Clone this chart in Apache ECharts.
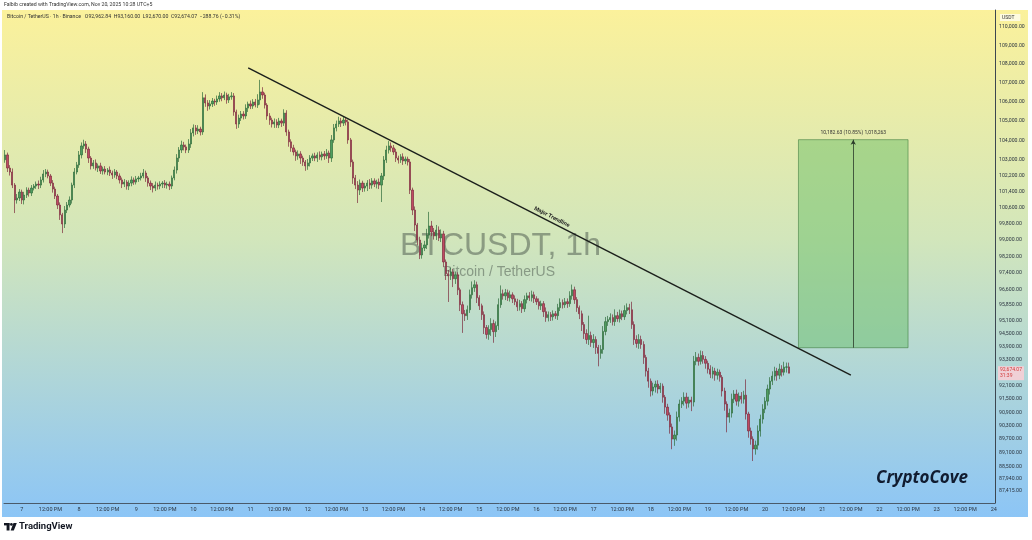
<!DOCTYPE html>
<html><head><meta charset="utf-8">
<script src="https://cdn.jsdelivr.net/npm/echarts@6/dist/echarts.min.js"></script>
<style>html,body{margin:0;padding:0;background:#fff}#c{width:1032px;height:540px}</style>
</head><body><div id="c"></div>
<script>
// ---- data ----
const startUTC = [2025, 10, 6, 17]; // first hourly candle: Nov 6, 17:00
const totalHours = 416;             // axis runs to Nov 24
const firstOpen = 103000;
const closes = [
103250,102580,102380,101720,100970,101070,101370,100970,101220,101470,
101320,101570,101670,101770,101720,101980,102280,102380,102180,101820,
101520,101170,100720,100230,99780,100470,100720,100970,101720,102380,
102740,103250,103710,103810,103550,103090,102690,102840,102580,102690,
102430,102530,102380,102480,102330,102230,102380,102180,101980,101770,
101870,101670,101820,101980,101870,102030,102080,102180,102330,102080,
101820,101670,101570,101720,101670,101770,101820,101720,101770,101670,
102080,102480,103090,103500,103760,103660,103500,103810,104380,104640,
104480,104580,104430,106210,105940,105780,105890,106040,105990,106150,
106310,106210,106360,106100,106260,106310,105470,104840,105150,105360,
105260,105670,105890,105780,105990,105830,106100,106520,106360,105830,
105260,105050,104840,104950,104790,105000,104890,105410,104430,103920,
103610,103400,103200,103300,103090,102890,102690,102840,103090,103200,
103090,103250,103150,103300,103200,103350,103090,104020,104640,104840,
105000,104890,105050,104950,104020,102890,102080,101720,101470,101820,
101570,101670,101820,101720,101930,101770,101870,101720,102180,102990,
103500,103710,103610,103400,103090,102990,103150,102940,103040,102890,
101470,100470,99730,98990,98260,98600,98750,99240,99680,99380,
99190,99480,99090,99290,97920,97350,97250,97440,97110,97300,
96580,95870,95440,95350,95630,96340,96680,96820,96200,95820,
95400,94790,94470,94700,94980,94600,94880,95870,96390,96290,
96440,96200,96340,96150,96010,95770,95920,95680,96110,96290,
96200,96340,96150,96010,95820,95920,95540,95260,95400,95300,
95440,95350,95730,95970,95870,96010,95920,96290,96580,96110,
95730,95440,94930,94510,94230,94420,94090,94230,93860,93590,
93770,94610,95070,95160,95260,95070,95350,95210,95440,95300,
95590,95730,95630,94930,94230,94050,94230,94000,93400,92770,
92310,91860,92040,92170,91950,92080,91580,91130,90770,90240,
89700,89880,90680,91270,91400,91580,91310,91450,91360,93220,
93400,93220,93490,93310,93130,92860,92630,92770,92580,92720,
92490,91860,91270,90680,90860,91490,91720,91400,91630,91490,
91670,90820,90060,89700,89260,89430,90060,90590,91040,91400,
91950,92310,92540,92770,92580,92860,92720,92950,92962.84,92674.07];
const wickUp = [
250,120,150,180,100,200,150,120,160,140,
120,150,100,130,180,160,200,150,120,100,
150,120,100,130,100,200,150,180,120,200,
150,200,180,220,150,120,100,150,180,120,
160,120,150,100,180,120,150,100,130,120,
150,100,140,180,120,150,100,160,200,120,
100,130,150,180,120,140,100,150,120,130,
120,180,200,150,220,160,120,250,200,180,
150,200,120,300,180,150,200,160,120,180,
200,150,180,120,160,200,150,120,180,160,
150,200,120,180,150,160,300,640,250,120,
100,150,120,180,140,160,120,200,150,120,
130,160,120,180,140,120,100,200,150,120,
160,130,180,120,150,200,120,250,200,180,
220,160,200,150,120,100,120,150,200,180,
120,160,150,200,140,130,120,180,150,200,
220,250,180,150,160,120,140,180,130,120,
150,120,180,100,160,250,200,300,700,250,
200,250,180,220,150,120,180,200,150,160,
120,100,150,180,200,250,300,220,150,120,
100,150,120,200,250,180,200,300,400,200,
180,150,200,120,160,140,180,120,200,150,
180,200,150,120,160,140,120,200,150,120,
160,130,180,200,150,180,160,220,250,150,
120,100,150,120,200,930,180,250,150,120,
200,250,220,180,200,150,300,180,200,150,
250,200,180,380,150,200,250,180,150,120,
150,120,200,160,180,150,120,100,150,120,
150,200,250,200,180,220,200,150,150,250,
250,180,230,200,150,120,180,200,150,160,
120,100,150,120,200,250,180,200,160,180,
200,720,100,150,120,200,250,200,220,180,
200,180,220,200,150,250,180,250,200,197.16];
const wickDown = [
150,200,180,150,650,180,150,200,220,150,
180,150,120,140,200,150,130,160,120,150,
180,150,200,250,450,200,150,120,180,150,
120,150,180,150,200,250,180,150,120,200,
150,180,120,160,150,200,140,160,180,200,
150,180,200,160,140,120,150,130,120,200,
180,200,220,150,180,160,200,150,180,200,
150,120,180,200,150,180,160,150,200,180,
200,160,180,150,200,250,180,160,200,150,
150,180,120,200,160,150,200,250,200,150,
180,150,200,160,150,120,150,250,200,180,
200,250,180,200,150,160,200,150,200,250,
200,180,250,200,300,200,250,200,180,150,
160,200,150,180,200,150,250,200,150,180,
150,200,150,180,200,250,300,200,650,250,
200,180,250,200,180,150,220,200,850,200,
150,180,200,150,200,180,150,200,160,180,
200,250,300,250,200,180,150,200,180,200,
180,200,150,200,250,300,1250,200,400,250,
250,300,900,250,200,150,180,200,250,200,
250,300,200,250,300,520,250,200,150,180,
200,150,180,200,160,200,180,200,150,180,
150,180,200,150,180,200,250,200,180,200,
180,150,200,160,180,150,200,150,180,200,
200,250,300,250,200,250,200,250,300,600,
250,200,180,200,150,180,200,150,180,160,
150,180,200,200,250,200,250,200,300,250,
300,250,200,250,200,180,250,300,250,300,
450,300,250,200,180,200,250,200,410,200,
180,200,150,200,250,200,180,200,250,200,
200,250,300,680,250,200,180,200,250,200,
200,250,300,250,530,250,200,250,200,180,
200,250,180,200,250,180,200,150,250,4.07];
const priceTicks = [110000,109000,108000,107000,106000,105000,104000,103000,102200,101400,
  100600,99800,99000,98200,97400,96600,95850,95100,94500,93900,93300,92100,91500,90900,
  90300,89700,89100,88500,87940,87415];
const prevClose = 92962.83;
const trendIdx = [102, 355];
const trendPrice = [107790, 92590];
const trendLabel = 'Major Trendline';
const boxIdx = [333, 379];
const boxArrowIdx = 356;
const boxLow = 93850;
const boxHigh = 104032.63;
const boxLabel = '10,182.63 (10.85%) 1,018,263';
const countdown = '31:39';

// ---- build ----
const fmt = v => v.toLocaleString('en-US', {minimumFractionDigits: 2, maximumFractionDigits: 2});
const cats = [];
const t0 = Date.UTC(startUTC[0], startUTC[1], startUTC[2], startUTC[3]);
for (let h = 0; h < totalHours; h++) {
  const d = new Date(t0 + h * 3600e3);
  cats.push(d.getUTCDate() + '|' + d.getUTCHours());
}
const ohlc = closes.map((c, i) => {
  const o = i === 0 ? firstOpen : closes[i - 1];
  return [o, c, Math.min(o, c) - wickDown[i], Math.max(o, c) + wickUp[i]];
});
const last = ohlc[ohlc.length - 1];
const chg = last[1] - prevClose;
const headerLine = 'Bitcoin / TetherUS · 1h · Binance   O' + fmt(last[0]) + '  H' + fmt(last[3]) +
  '  L' + fmt(last[2]) + '  C' + fmt(last[1]) + '  ' + (chg < 0 ? '−' : '+') + fmt(Math.abs(chg)) +
  ' (' + (chg < 0 ? '−' : '+') + Math.abs(chg / prevClose * 100).toFixed(2) + '%)';

const chart = echarts.init(document.getElementById('c'), null, {renderer: 'canvas'});
const font = 'Roboto';
chart.setOption({
  animation: false,
  backgroundColor: '#ffffff',
  grid: {left: 4, right: 37, top: 10, bottom: 37},
  xAxis: {
    type: 'category', data: cats, boundaryGap: true,
    axisLine: {show: true, lineStyle: {color: '#4a5a6a', width: 1}},
    axisTick: {show: false}, splitLine: {show: false},
    axisLabel: {
      interval: (i, v) => { const h = +v.split('|')[1]; return h === 0 || h === 12; },
      formatter: v => { const p = v.split('|'); return p[1] === '0' ? p[0] : '12:00 PM'; },
      fontSize: 5.5, color: '#2b3440', margin: 4, fontFamily: font, hideOverlap: false
    }
  },
  yAxis: {
    type: 'log', min: 86905, max: 110930, position: 'right',
    axisLine: {show: true, lineStyle: {color: '#3c4650', width: 1}},
    axisTick: {show: false}, splitLine: {show: false},
    axisLabel: {customValues: priceTicks, formatter: v => fmt(v), fontSize: 5.2, color: '#2b3440',
      margin: 4, fontFamily: font, showMinLabel: true, showMaxLabel: true}
  },
  graphic: [
    {type: 'rect', z: -100, silent: true, shape: {x: 2, y: 10, width: 1026, height: 507},
      style: {fill: new echarts.graphic.LinearGradient(0, 0, 0, 1, [
        {offset: 0, color: '#fbf19b'}, {offset: 0.45, color: '#d2e6bb'}, {offset: 1, color: '#8cc5f6'}])}},
    {type: 'text', z: -50, silent: true, left: 400, top: 230,
      style: {text: 'BTCUSDT, 1h', fontSize: 32, fontFamily: 'Liberation Sans', fill: 'rgba(70,82,72,0.5)'}},
    {type: 'text', z: -50, silent: true, left: 443, top: 265,
      style: {text: 'Bitcoin / TetherUS', fontSize: 14, fontFamily: 'Liberation Sans', fill: 'rgba(70,82,72,0.5)'}},
    {type: 'text', left: 4, top: 2, style: {text: 'Falbib created with TradingView.com, Nov 20, 2025 10:28 UTC+5',
      fontSize: 5.2, fontFamily: font, fill: '#333'}},
    {type: 'text', left: 7, top: 14, style: {text: headerLine, fontSize: 5.2, fontFamily: font, fill: '#333'}},
    {type: 'text', left: 1000, top: 14, style: {text: 'USDT', fontSize: 5, fontFamily: font, fill: '#333',
      backgroundColor: 'rgba(255,255,255,0.7)', padding: [1, 6, 1, 2]}},
    {type: 'text', left: 876, top: 470, style: {text: 'CryptoCove', fontSize: 17, fontWeight: 'bold',
      fontStyle: 'italic', fontFamily: 'Open Sans', fill: '#111c30'}},
    {type: 'group', left: 4, top: 523, children: [
      {type: 'rect', shape: {x: 0, y: 0, width: 5.5, height: 2.4}, style: {fill: '#131722'}},
      {type: 'rect', shape: {x: 2.6, y: 0, width: 2.9, height: 7.5}, style: {fill: '#131722'}},
      {type: 'circle', shape: {cx: 7.4, cy: 1.4, r: 1.4}, style: {fill: '#131722'}},
      {type: 'polygon', shape: {points: [[9.5, 0], [12.8, 0], [9.8, 7.5], [6.6, 7.5]]}, style: {fill: '#131722'}}
    ]},
    {type: 'text', left: 19, top: 522, style: {text: 'TradingView', fontSize: 9.5, fontWeight: 'bold',
      fontFamily: font, fill: '#131722'}}
  ],
  series: [{
    type: 'candlestick', data: ohlc, barWidth: '72%',
    itemStyle: {color: '#4f9e5f', color0: '#c04a63', borderColor: '#2e6b3b', borderColor0: '#7c2b3e', borderWidth: 0.7},
    markArea: {silent: true, itemStyle: {color: 'rgba(96,186,96,0.45)', borderColor: 'rgba(60,120,60,0.7)', borderWidth: 0.8},
      data: [[{coord: [boxIdx[0], boxHigh]}, {coord: [boxIdx[1], boxLow]}]]},
    markLine: {silent: true, symbol: ['none', 'none'], animation: false,
      data: [
        [{coord: [trendIdx[0], trendPrice[0]]}, {coord: [trendIdx[1], trendPrice[1]],
          lineStyle: {color: '#1b1f1b', width: 1.4, type: 'solid'},
          label: {show: true, position: 'insideMiddleTop', formatter: trendLabel, fontSize: 5.5,
            fontWeight: 'bold', color: '#222', fontFamily: font, distance: 2}}],
        [{coord: [boxArrowIdx, boxLow], symbol: 'none'}, {coord: [boxArrowIdx, boxHigh], symbol: 'arrow', symbolSize: [4, 5],
          lineStyle: {color: '#2a3a2a', width: 0.8, type: 'solid'},
          label: {show: true, position: 'end', formatter: boxLabel, fontSize: 5, color: '#333', fontFamily: font, distance: 4}}],
        {yAxis: last[1], lineStyle: {color: 'rgba(0,0,0,0)', width: 0.5, type: 'solid'},
          label: {show: true, position: 'end', formatter: fmt(last[1]) + '\n' + countdown, fontSize: 5,
            lineHeight: 6, color: '#d23a3a', backgroundColor: '#f0d0d6', padding: [1, 2], fontFamily: font, distance: 3}}
      ]}
  }]
});
</script></body></html>
